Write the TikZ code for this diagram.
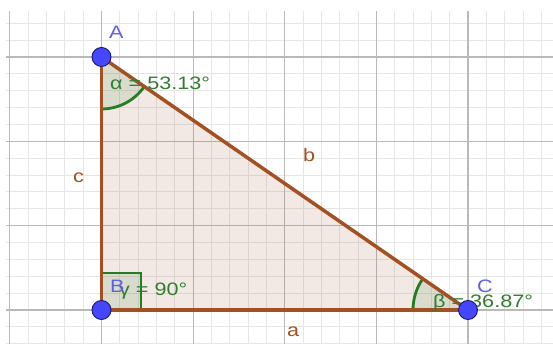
\documentclass[tikz,border=0pt]{standalone}
\usepackage{fontspec}
\usepackage{graphicx}
\setmainfont{Liberation Sans}
\definecolor{gridmajor}{RGB}{185,185,185}
\definecolor{gridminor}{RGB}{230,230,230}
\definecolor{edgecol}{RGB}{163,80,35}
\definecolor{anglecol}{RGB}{35,125,35}
\definecolor{anglelbl}{RGB}{50,125,50}
\definecolor{ptcol}{RGB}{70,70,255}
\definecolor{ptlbl}{RGB}{95,95,235}
\tikzset{
  minorline/.style={gridminor,line width=0.9pt},
  majorline/.style={gridmajor,line width=1.2pt},
  edge/.style={edgecol,line width=3.5pt},
  trifill/.style={fill=edgecol,fill opacity=0.12},
  anglesector/.style={fill=anglecol,fill opacity=0.12},
  anglearc/.style={anglecol,line width=2.8pt},
  lbl/.style={anchor=base west,inner sep=0pt,font=\fontsize{18}{21}\selectfont},
  ptlabel/.style={lbl,text=ptlbl},
  anglabel/.style={lbl,text=anglelbl},
  sidelabel/.style={lbl,text=edgecol},
  gpoint/.style={circle,fill=ptcol,draw={rgb,255:red,25;green,25;blue,110},line width=0.9pt,minimum size=19pt,inner sep=0pt}
}
\newcommand{\wtext}[1]{\scalebox{1.2}[1]{#1}}
\begin{document}
\begin{tikzpicture}[x=1pt,y=1pt]
\fill[white] (0,0) rectangle (553,344);
\useasboundingbox (0,0) rectangle (553,344);
% grid
\foreach \i in {-5,...,24}{
  \pgfmathtruncatemacro{\m}{mod(\i+100,5)}
  \ifnum\m=0\relax\else
    \draw[minorline] ({101.5+18.325*\i},0) -- ({101.5+18.325*\i},333);
  \fi
}
\foreach \j in {-2,...,17}{
  \pgfmathtruncatemacro{\m}{mod(\j+100,5)}
  \ifnum\m=0\relax\else
    \draw[minorline] (6,{34+16.8667*\j}) -- (553,{34+16.8667*\j});
  \fi
}
\foreach \i in {-5,0,5,10,15,20}{
  \draw[majorline] ({101.5+18.325*\i},0) -- ({101.5+18.325*\i},333);
}
\foreach \j in {0,5,10,15}{
  \draw[majorline] (6,{34+16.8667*\j}) -- (553,{34+16.8667*\j});
}
% triangle
\coordinate (A) at (101.5,287);
\coordinate (B) at (101.5,34);
\coordinate (C) at (468,34);
\coordinate (Rtop) at (141,71);
\fill[trifill] (A) -- (B) -- (C) -- cycle;
% angles
\fill[anglesector] (A) -- ++(270:52) arc[start angle=270,end angle=325.38,radius=52] -- cycle;
\draw[anglearc] (A) ++(270:52) arc[start angle=270,end angle=325.38,radius=52];
\fill[anglesector] (C) -- ++(145.38:55) arc[start angle=145.38,end angle=180,radius=55] -- cycle;
\draw[anglearc] (C) ++(145.38:55) arc[start angle=145.38,end angle=180,radius=55];
\fill[anglesector] (B) rectangle (Rtop);
\draw[anglearc] (B |- Rtop) -- (Rtop) -- (Rtop |- B);
% edges
\draw[edge] (A) -- (B);
\draw[edge] (B) -- (C);
\draw[edge] (C) -- (A);
% labels
\node[sidelabel] (lc) at (73,161) {\wtext{c}};
\node[sidelabel] (lb) at (303,182) {\wtext{b}};
\node[sidelabel] (la) at (287,7) {\wtext{a}};
\node[anglabel] (lalpha) at (110,254) {\wtext{α = 53.13°}};
\node[anglabel] (lgamma) at (119,48) {\wtext{γ = 90°}};
\node[anglabel] (lbeta) at (433,36) {\wtext{β = 36.87°}};
% points
\node[gpoint] (pA) at (A) {};
\node[gpoint] (pB) at (B) {};
\node[gpoint] (pC) at (C) {};
\node[ptlabel] (lA) at (109,305) {\wtext{A}};
\node[ptlabel] (lB) at (110,51) {\wtext{B}};
\node[ptlabel] (lC) at (477,51) {\wtext{C}};
\end{tikzpicture}
\end{document}
